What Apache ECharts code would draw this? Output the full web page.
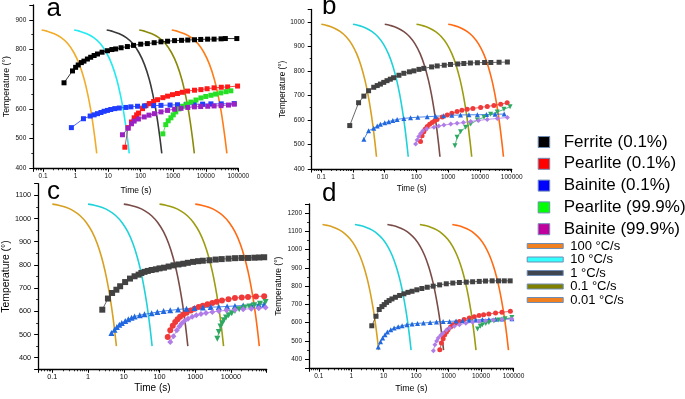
<!DOCTYPE html>
<html>
<head>
<meta charset="utf-8">
<script src="https://cdn.jsdelivr.net/npm/echarts@6/dist/echarts.min.js"></script>
<style>
  html, body { margin: 0; padding: 0; background: #fff; }
  #chart { width: 685px; height: 399px; }
</style>
</head>
<body>
<div id="chart"></div>
<script>
// legend names
var rateNames = ['100 °C/s', '10 °C/s', '1 °C/s', '0.1 °C/s', '0.01 °C/s'];
var phaseNames = ['Ferrite (0.1%)', 'Pearlite (0.1%)', 'Bainite (0.1%)', 'Pearlite (99.9%)', 'Bainite (99.9%)'];

// ---- panel a ----
var coolTempA = [866, 862, 855, 840, 820, 790, 750, 700, 650, 600, 550, 500, 450];
var coolTimesA = [
  [0.09, 0.13, 0.2, 0.36, 0.57, 0.88, 1.3, 1.83, 2.35, 2.88, 3.4, 3.92, 4.45],
  [0.9, 1.3, 2, 3.6, 5.7, 8.8, 13, 18.3, 23.5, 28.8, 34, 39.2, 44.5],
  [9, 13, 20, 36, 57, 88, 130, 183, 235, 288, 340, 392, 445],
  [90, 130, 200, 360, 570, 880, 1300, 1830, 2350, 2880, 3400, 3920, 4450],
  [900, 1300, 2000, 3600, 5700, 8800, 13000, 18300, 23500, 28800, 34000, 39200, 44500]
];
var ferriteA = [[0.44,688],[0.8,728],[1.0,740],[1.2,748],[1.5,756],[1.8,761],[2.3,768],[2.9,774],[3.7,780],[4.7,785],[6.5,791],[9.5,796],[13,800],[17,802],[25,806],[39,810],[60,814],[100,818],[160,820],[260,823],[420,826],[670,828],[1100,830],[1800,831],[2800,832],[4500,833],[7000,834],[11400,835],[18000,835],[29500,836],[40000,837],[90000,837]];
var pearliteA = [[32.6,471],[41,537],[52,556],[63,570],[75,580],[86,586],[114,601],[145,611],[183,618],[250,625],[330,631],[480,638],[670,643],[950,648],[1350,652],[1900,656],[2760,660],[4500,663],[7100,665],[11000,668],[18000,671],[30000,673],[47000,674],[95000,677]];
var bainiteA = [[0.74,537],[1.74,567],[2.8,576],[3.7,580],[4.7,584],[6,588],[7.5,592],[9.5,595],[12,598],[16,601],[22,603],[35,605],[50,607],[80,609],[130,610],[250,611],[420,612],[800,613],[1350,614],[2500,615],[4400,616],[8000,616],[14400,617],[30000,617],[75000,618]];
var pearlite999A = [[480,516],[590,547],[700,560],[850,570],[1000,580],[1200,590],[1500,600],[1940,609],[2600,616],[3500,623],[5000,630],[7100,637],[10000,642],[14400,646],[20000,650],[29000,654],[42000,658],[59000,661]];
var bainite999A = [[27.5,513],[41,535],[52,550],[63,559],[85,566],[128,573],[180,579],[265,584],[420,590],[670,595],[1100,599],[1740,602],[2800,605],[4470,607],[7000,608],[11500,609],[18000,610],[29500,611],[50000,613],[75000,616]];

// ---- panel b ----
var coolTempB = [990, 985, 975, 960, 940, 910, 870, 820, 760, 700, 640, 580, 520, 450];
var coolTimesB = [
  [0.1, 0.15, 0.25, 0.4, 0.6, 0.9, 1.3, 1.8, 2.4, 3.0, 3.6, 4.2, 4.8, 5.5],
  [1, 1.5, 2.5, 4, 6, 9, 13, 18, 24, 30, 36, 42, 48, 55],
  [10, 15, 25, 40, 60, 90, 130, 180, 240, 300, 360, 420, 480, 550],
  [100, 150, 250, 400, 600, 900, 1300, 1800, 2400, 3000, 3600, 4200, 4800, 5500],
  [1000, 1500, 2500, 4000, 6000, 9000, 13000, 18000, 24000, 30000, 36000, 42000, 48000, 55000]
];
var ferriteB = [[0.79,577],[1.5,670],[2.2,697],[3.1,719],[4.5,733],[5.8,740],[7.3,746],[9.3,753],[11.8,760],[15,766],[19,772],[28,782],[40,790],[60,796],[83,800],[120,806],[170,810],[300,816],[450,820],[750,823],[1180,826],[2000,828],[3100,830],[5000,832],[8300,833],[14000,834],[22000,834],[40000,835],[73000,836]];
var pearliteB = [[134,512],[150,535],[170,552],[190,563],[218,573],[260,582],[312,589],[370,596],[446,602],[650,612],[930,620],[1300,627],[1900,634],[2700,639],[3950,643],[6000,647],[10500,651],[17000,655],[27500,659],[45000,664],[72000,670]];
var bainiteB = [[2.2,521],[3.1,556],[4.5,566],[5.8,575],[7.3,582],[10,588],[13.4,593],[18,598],[24.6,602],[40,606],[65,609],[110,611],[218,613],[400,615],[720,617],[1300,619],[2440,620],[4500,621],[8300,621],[16000,622],[30000,623],[58000,624]];
var pearlite999B = [[1630,495],[1900,529],[2450,552],[3530,570],[5100,583],[8300,600],[13400,611],[21700,623],[35000,632],[57000,643],[89000,654]];
var bainite999B = [[94,502],[105,518],[118,532],[135,545],[160,556],[210,564],[355,570],[500,575],[730,579],[1200,583],[1900,586],[3000,589],[5100,594],[9000,598],[17000,602],[35000,606],[73000,610]];

// ---- panel c ----
var coolTempC = [1062, 1057, 1047, 1032, 1012, 982, 942, 892, 832, 772, 712, 652, 592, 532, 450];
var coolTimesC = [
  [0.1, 0.15, 0.25, 0.4, 0.6, 0.9, 1.3, 1.8, 2.4, 3.0, 3.6, 4.2, 4.8, 5.4, 6.2],
  [1, 1.5, 2.5, 4, 6, 9, 13, 18, 24, 30, 36, 42, 48, 54, 62],
  [10, 15, 25, 40, 60, 90, 130, 180, 240, 300, 360, 420, 480, 540, 620],
  [100, 150, 250, 400, 600, 900, 1300, 1800, 2400, 3000, 3600, 4200, 4800, 5400, 6200],
  [1000, 1500, 2500, 4000, 6000, 9000, 13000, 18000, 24000, 30000, 36000, 42000, 48000, 54000, 62000]
];
var ferriteC = [[2.5,607],[3.6,655],[4.7,679],[6.2,693],[7.9,708],[10.9,726],[14.9,741],[20,751],[26,758],[31,765],[38,770],[47,774],[60,778],[79,781],[100,785],[133,788],[180,793],[246,798],[340,802],[465,805],[620,809],[870,813],[1200,816],[1630,818],[2500,820],[3740,823],[5500,825],[8560,827],[13000,829],[19700,830],[30000,830],[45000,831],[62000,832],[85000,833]];
var pearliteC = [[170,489],[200,518],[235,538],[275,554],[320,566],[375,576],[460,586],[570,594],[750,603],[960,611],[1250,618],[1630,624],[2200,630],[3000,636],[4000,641],[5600,647],[8500,652],[12900,657],[20000,660],[30000,662],[50000,664],[85000,665]];
var bainiteC = [[4.5,507],[5.5,521],[6.4,532],[7.5,542],[8.8,550],[11,558],[13.4,566],[16.5,572],[20,578],[28,583],[38,587],[60,592],[87,597],[130,601],[200,604],[330,608],[570,611],[950,614],[1630,616],[2700,618],[4570,619],[7800,621],[12900,623],[22000,625],[37000,626],[60000,628],[85000,629]];
var pearlite999C = [[4150,482],[4570,511],[5100,535],[5700,549],[6300,561],[7300,573],[8600,583],[10500,592],[12900,601],[17000,609],[24000,616],[33000,621],[45000,626],[65000,633],[93000,640]];
var bainite999C = [[200,468],[245,492],[305,518],[360,534],[415,547],[500,558],[630,568],[820,576],[1070,583],[1450,588],[2000,593],[3000,597],[4570,601],[7500,604],[12900,607],[22000,609],[37000,611],[60000,613],[93000,616]];

// ---- panel d ----
var coolTempD = [1138, 1133, 1123, 1108, 1088, 1058, 1018, 968, 908, 848, 788, 728, 668, 608, 548, 450];
var coolTimesD = [
  [0.13, 0.18, 0.28, 0.43, 0.63, 0.93, 1.33, 1.83, 2.43, 3.03, 3.63, 4.23, 4.83, 5.43, 6.03, 7.0],
  [1.3, 1.8, 2.8, 4.3, 6.3, 9.3, 13.3, 18.3, 24.3, 30.3, 36.3, 42.3, 48.3, 54.3, 60.3, 70],
  [13, 18, 28, 43, 63, 93, 133, 183, 243, 303, 363, 423, 483, 543, 603, 700],
  [130, 180, 280, 430, 630, 930, 1330, 1830, 2430, 3030, 3630, 4230, 4830, 5430, 6030, 7000],
  [1300, 1800, 2800, 4300, 6300, 9300, 13300, 18300, 24300, 30300, 36300, 42300, 48300, 54300, 60300, 70000]
];
var ferriteD = [[4.3,583],[5.8,635],[7.3,672],[8.8,688],[10.4,699],[12.3,711],[14.7,721],[18,730],[23,739],[31,749],[42,758],[56,766],[75,772],[105,780],[150,787],[220,794],[335,800],[530,807],[850,813],[1350,817],[2150,820],[3500,822],[5500,824],[8800,826],[13700,828],[22000,829],[34500,829],[52000,829],[79000,829]];
var pearliteD = [[535,451],[600,488],[680,512],[760,534],[860,549],[960,561],[1150,576],[1350,589],[1700,599],[2150,607],[3000,617],[4350,626],[6200,633],[8700,639],[12000,644],[17400,648],[28000,653],[44000,657],[80000,662]];
var bainiteD = [[6.8,466],[8,495],[9.3,516],[11,534],[13,549],[16.5,561],[21,571],[28,578],[37,583],[52,589],[75,593],[110,596],[168,598],[270,601],[424,604],[680,606],[1070,607],[1700,609],[2700,611],[4300,613],[6900,615],[11000,617],[17400,618],[28000,619],[44000,620],[89000,622]];
var pearlite999D = [[7800,565],[9500,580],[11000,588],[14000,596],[17400,601],[25000,609],[35000,614],[55000,621],[89000,628]];
var bainite999D = [[340,446],[380,479],[430,500],[480,516],[570,531],[680,543],[850,558],[1070,571],[1500,581],[2150,589],[3400,597],[5500,602],[8700,607],[13700,611],[24000,614],[44000,617],[89000,620]];

var FONT = '"Liberation Sans", Arial, sans-serif';

var panels = [
  { left: 33.3, top: 5, width: 205, height: 163.3, xMin: 0.05, yMin: 400, yMax: 950, interval: 100,
    tickSize: 6.5, xNameSize: 8.5, xNameGap: 17.4, yNameSize: 8.8, yNameGap: 21, letter: 'a', lx: 46.5, ly: 9, symSize: 5,
    coolTemp: coolTempA, coolTimes: coolTimesA,
    phases: [ferriteA, pearliteA, bainiteA, pearlite999A, bainite999A],
    coolColors: ['#f2ac2c', '#22eaf0', '#3a3a3a', '#8a8a0a', '#ff7d18'],
    phaseColors: ['#000000', '#ff1a1a', '#1f3cff', '#26e026', '#9b22c2'],
    symbols: ['rect', 'rect', 'rect', 'rect', 'rect'], hideMax: false },
  { left: 311.7, top: 9.5, width: 200, height: 159.5, xMin: 0.05, yMin: 400, yMax: 1050, interval: 100,
    tickSize: 6.5, xNameSize: 8.2, xNameGap: 15.9, yNameSize: 8.2, yNameGap: 17, letter: 'b', lx: 322, ly: 7, symSize: 5,
    coolTemp: coolTempB, coolTimes: coolTimesB,
    phases: [ferriteB, pearliteB, bainiteB, pearlite999B, bainite999B],
    coolColors: ['#d8a020', '#1fd2da', '#7a4c48', '#9c9c10', '#ff6a12'],
    phaseColors: ['#424242', '#f03a3a', '#2068e0', '#2ea862', '#b07ce8'],
    symbols: ['rect', 'circle', 'triangle', 'triangle', 'diamond'], hideMax: false },
  { left: 35, top: 183.7, width: 231.7, height: 185.6, xMin: 0.04, yMin: 350, yMax: 1150, split: 8,
    tickSize: 7.3, xNameSize: 10, xNameGap: 13.7, yNameSize: 10.4, yNameGap: 24.5, letter: 'c', lx: 47, ly: 192, symSize: 6,
    coolTemp: coolTempC, coolTimes: coolTimesC,
    phases: [ferriteC, pearliteC, bainiteC, pearlite999C, bainite999C],
    coolColors: ['#d8a020', '#1fd2da', '#7a4c48', '#9c9c10', '#ff6a12'],
    phaseColors: ['#424242', '#f03a3a', '#2068e0', '#2ea862', '#b07ce8'],
    symbols: ['rect', 'circle', 'triangle', 'triangle', 'diamond'], hideMax: true },
  { left: 309, top: 204, width: 204.5, height: 164.3, xMin: 0.05, yMin: 350, yMax: 1250, split: 9,
    tickSize: 6.5, xNameSize: 8.9, xNameGap: 16.2, yNameSize: 8.5, yNameGap: 22.5, letter: 'd', lx: 322, ly: 194, symSize: 5,
    coolTemp: coolTempD, coolTimes: coolTimesD,
    phases: [ferriteD, pearliteD, bainiteD, pearlite999D, bainite999D],
    coolColors: ['#d8a020', '#1fd2da', '#7a4c48', '#9c9c10', '#ff6a12'],
    phaseColors: ['#424242', '#f03a3a', '#2068e0', '#2ea862', '#b07ce8'],
    symbols: ['rect', 'circle', 'triangle', 'triangle', 'diamond'], hideMax: false }
];

var grids = [], xAxes = [], yAxes = [], series = [], letters = [];

panels.forEach(function (p, i) {
  grids.push({ left: p.left, top: p.top, width: p.width, height: p.height });
  xAxes.push({
    type: 'log', logBase: 10, gridIndex: i, min: p.xMin, max: 100000,
    name: 'Time (s)', nameLocation: 'middle', nameGap: p.xNameGap,
    nameTextStyle: { fontSize: p.xNameSize, color: '#000', fontFamily: FONT },
    axisLine: { onZero: false, lineStyle: { color: '#000', width: 1.3 } },
    axisTick: { length: 3.5, lineStyle: { color: '#000', width: 1 } },
    minorTick: { show: true, splitNumber: 9, length: 2, lineStyle: { color: '#000', width: 0.8 } },
    splitLine: { show: false },
    axisLabel: {
      fontSize: p.tickSize, color: '#111', fontFamily: FONT, margin: 4.5,
      formatter: function (v) {
        var e = Math.log10(v);
        if (Math.abs(e - Math.round(e)) > 1e-6) return '';
        if (p.hideMax && v > 50000) return '';
        return String(Number(v.toPrecision(6)));
      }
    }
  });
  var y = {
    type: 'value', gridIndex: i, min: p.yMin, max: p.yMax,
    name: 'Temperature (°)', nameLocation: 'middle', nameGap: p.yNameGap,
    nameTextStyle: { fontSize: p.yNameSize, color: '#000', fontFamily: FONT },
    axisLine: { show: true, onZero: false, lineStyle: { color: '#000', width: 1.3 } },
    axisTick: { show: true, length: 4, lineStyle: { color: '#000', width: 1 } },
    minorTick: { show: true, splitNumber: 2, length: 2, lineStyle: { color: '#000', width: 0.8 } },
    splitLine: { show: false },
    axisLabel: {
      fontSize: p.tickSize, color: '#111', fontFamily: FONT, margin: 7,
      formatter: function (v) { return v % 100 === 0 ? String(v) : ''; }
    }
  };
  if (p.interval) y.interval = p.interval; else y.splitNumber = p.split;
  yAxes.push(y);

  p.coolTimes.forEach(function (times, k) {
    series.push({
      type: 'line', name: rateNames[k], xAxisIndex: i, yAxisIndex: i,
      data: times.map(function (t, j) { return [t, p.coolTemp[j]]; }),
      symbol: 'none', smooth: 0.4, z: 2,
      lineStyle: { width: 1.6, color: p.coolColors[k] },
      itemStyle: { color: p.coolColors[k] }
    });
  });

  p.phases.forEach(function (pts, k) {
    series.push({
      type: 'line', name: phaseNames[k], xAxisIndex: i, yAxisIndex: i,
      data: pts, symbol: p.symbols[k], symbolSize: p.symSize,
      symbolRotate: (k === 3 && p.symbols[k] === 'triangle') ? 180 : 0,
      showSymbol: true, z: 3,
      lineStyle: { width: 0.8, color: p.phaseColors[k] },
      itemStyle: { color: p.phaseColors[k] }
    });
  });

  letters.push({
    type: 'text', left: p.lx, top: p.ly - 13, z: 10,
    style: { text: p.letter, fontSize: 26, fontFamily: FONT, fill: '#000' }
  });
});

var legendBorder = '#6f8db4';
var squareColors = ['#000000', '#ff0000', '#0000ff', '#00ff00', '#c0009c'];
var lineColors = ['#f08020', '#33ffff', '#3f4650', '#808000', '#f08020'];

var option = {
  backgroundColor: '#fff',
  animation: false,
  grid: grids,
  xAxis: xAxes,
  yAxis: yAxes,
  series: series,
  graphic: letters,
  legend: [
    {
      orient: 'vertical', left: 537.7, top: 133.5, padding: 0, itemGap: 4.8,
      itemWidth: 11.5, itemHeight: 11, icon: 'rect', selectedMode: false,
      textStyle: { fontSize: 17, lineHeight: 17, fontFamily: FONT, color: '#000', padding: [0, 0, 0, 9] },
      data: phaseNames.map(function (n, k) {
        return { name: n, itemStyle: { color: squareColors[k], borderColor: legendBorder, borderWidth: 1 } };
      })
    },
    {
      orient: 'vertical', left: 526.7, top: 239.5, padding: 0, itemGap: 0.5,
      itemWidth: 36, itemHeight: 5, icon: 'rect', selectedMode: false,
      textStyle: { fontSize: 13, lineHeight: 13, fontFamily: FONT, color: '#000', padding: [0, 0, 0, 2] },
      data: rateNames.map(function (n, k) {
        return { name: n, itemStyle: { color: lineColors[k], borderColor: legendBorder, borderWidth: 1 } };
      })
    }
  ]
};

var chart = echarts.init(document.getElementById('chart'));
chart.setOption(option);
</script>
</body>
</html>
